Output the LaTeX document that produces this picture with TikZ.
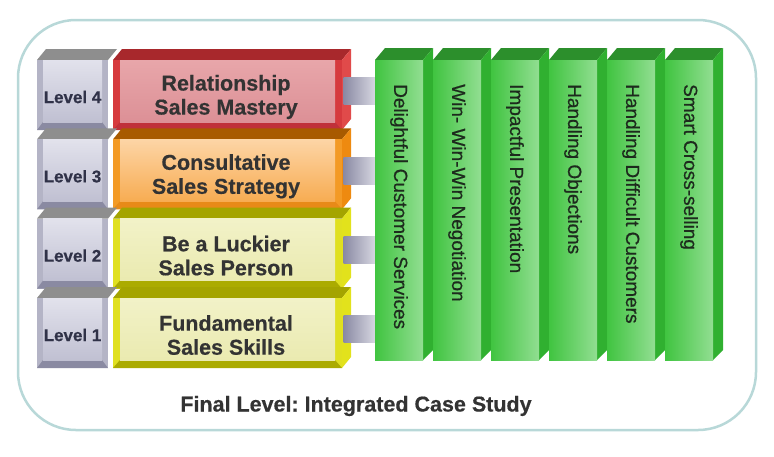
\documentclass[tikz,border=0pt]{standalone}
\usepackage{fontspec}
\setmainfont{Liberation Sans}
\newfontfamily\colfont[FakeBold=0.6]{Liberation Sans}
\newfontfamily\boldfont[FakeBold=0.5]{Liberation Sans Bold}
\usetikzlibrary{calc}
\frenchspacing
\definecolor{framec}{HTML}{B8D8D8}
\definecolor{gtop}{HTML}{8E8E8E}
\definecolor{gedge}{HTML}{B4B4C6}
\definecolor{gbot}{HTML}{8A8AA2}
\definecolor{gin1}{HTML}{E2E2EC}
\definecolor{gin2}{HTML}{C0C0D2}
\definecolor{topR}{HTML}{A8282C}
\definecolor{sideR}{HTML}{E04A4A}
\definecolor{edgeR}{HTML}{D63A3E}
\definecolor{botR}{HTML}{C0303A}
\definecolor{inR1}{HTML}{E8A6AA}
\definecolor{inR2}{HTML}{DC9096}
\definecolor{topO}{HTML}{A85A00}
\definecolor{sideO}{HTML}{EE8A10}
\definecolor{edgeO}{HTML}{F39A25}
\definecolor{botO}{HTML}{E88A18}
\definecolor{inO1}{HTML}{FDD5A6}
\definecolor{inO2}{HTML}{F7AC52}
\definecolor{topY}{HTML}{A4A400}
\definecolor{sideY}{HTML}{E2E21C}
\definecolor{edgeY}{HTML}{E0E020}
\definecolor{botY}{HTML}{ABAB00}
\definecolor{inY1}{HTML}{F2F2C8}
\definecolor{inY2}{HTML}{EAEAB0}
\definecolor{gtopc}{HTML}{2C8F2C}
\definecolor{gside}{HTML}{30B030}
\definecolor{gfrontL}{HTML}{40C440}
\definecolor{gfrontR}{HTML}{92DE92}
\definecolor{connL}{HTML}{8A8AA4}
\definecolor{connR}{HTML}{D6D6E0}
\definecolor{txtdark}{HTML}{333333}
\definecolor{lvltxt}{HTML}{303248}
\definecolor{coltxt}{HTML}{1D2A1D}
\begin{document}
\begin{tikzpicture}[x=1pt,y=-1pt,
  boxtext/.style={font=\boldfont\fontsize{21.5}{24}\selectfont, text=txtdark, align=center, inner sep=0pt, minimum width=229pt, minimum height=70pt},
  leveltext/.style={font=\boldfont\fontsize{17}{20}\selectfont, text=lvltxt, inner sep=0pt},
  coltext/.style={font=\colfont\fontsize{19}{22}\selectfont, text=coltxt, rotate=-90, anchor=west, inner sep=0pt},
  colholder/.style={inner sep=0pt, minimum width=48pt, minimum height=300pt},
  conn/.style={left color=connL, right color=connR},
  frame/.style={draw=framec, line width=2.5pt, rounded corners=58pt}
]
\useasboundingbox (0,0) rectangle (774,456);
\fill[white] (0,0) rectangle (774,456);
\draw[frame] (18,20) rectangle (756,430);

% green columns
\foreach \x in {375,433,491,549,607,665} {
  \fill[gtopc] (\x,60) -- (\x+48,60) -- (\x+58,48) -- (\x+10,48) -- cycle;
  \fill[gside] (\x+48,60) -- (\x+58,48) -- (\x+58,350) -- (\x+48,360) -- cycle;
  \shade[left color=gfrontL, right color=gfrontR] (\x,60) rectangle (\x+48,360);
}
\node[colholder] (c1) at (399,210) {};
\node[coltext] (t1) at (399,84) {Delightful Customer Services};
\node[coltext] (t2) at (457,84) {Win- Win-Win Negotiation};
\node[coltext] (t3) at (515,84) {Impactful Presentation};
\node[coltext] (t4) at (573,84) {Handling Objections};
\node[coltext] (t5) at (631,84) {Handling Difficult Customers};
\node[coltext] (t6) at (689,84) {Smart Cross-selling};

% level rows
\foreach \c/\y in {R/60, O/139.3, Y/218.6, Y/298} {
  % gray level box
  \fill[gtop] (37,\y) -- (108,\y) -- (117,\y-11) -- (46,\y-11) -- cycle;
  \fill[gedge] (37,\y) rectangle (108,\y+70);
  \fill[gbot] (37,\y+70) -- (43,\y+62) -- (102,\y+62) -- (108,\y+70) -- cycle;
  \shade[top color=gin1, bottom color=gin2] (43,\y) rectangle (102,\y+62);
  % coloured box
  \fill[fill=top\c] (113,\y) -- (342,\y) -- (351,\y-11) -- (122,\y-11) -- cycle;
  \fill[fill=side\c] (342,\y) -- (351,\y-11) -- (351,\y+59) -- (342,\y+70) -- cycle;
  \fill[fill=edge\c] (113,\y) rectangle (342,\y+70);
  \fill[fill=bot\c] (113,\y+70) -- (120,\y+62) -- (335,\y+62) -- (342,\y+70) -- cycle;
  \shade[top color=in\c1, bottom color=in\c2] (120,\y) rectangle (335,\y+62);
}

\node[boxtext] (b4) at (226,97) {Relationship\\Sales Mastery};
\node[boxtext] (b3) at (226,176.3) {Consultative\\Sales Strategy};
\node[boxtext] (b2) at (226,255.6) {Be a Luckier\\Sales Person};
\node[boxtext] (b1) at (226,335) {Fundamental\\Sales Skills};

\node[leveltext] (l4) at (72.5,97) {Level 4};
\node[leveltext] (l3) at (72.5,176.3) {Level 3};
\node[leveltext] (l2) at (72.5,255.6) {Level 2};
\node[leveltext] (l1) at (72.5,335) {Level 1};

% connectors
\foreach \b in {b4,b3,b2,b1} {
  \shade[conn] ($(\b.north east)+(3,16)$) rectangle ($(c1.west |- \b.north)+(0,43)$);
}

\node[font=\boldfont\fontsize{21.5}{24}\selectfont, text=txtdark, inner sep=0pt] (final) at (356,406) {Final Level: Integrated Case Study};
\end{tikzpicture}
\end{document}
